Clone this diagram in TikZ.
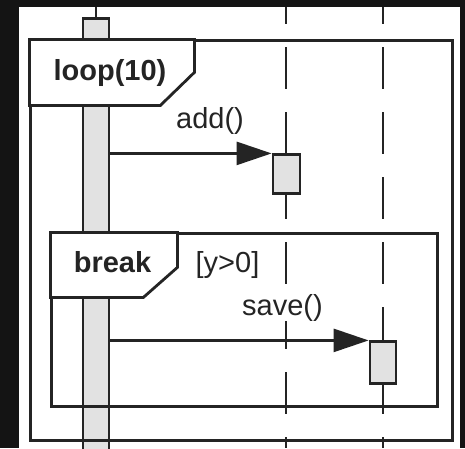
\documentclass[tikz,border=0pt]{standalone}
\usepackage{fontspec}
\setmainfont{Liberation Sans}
\usetikzlibrary{arrows.meta, positioning, calc}
\definecolor{LineDark}{RGB}{36,36,36}
\definecolor{BarFill}{RGB}{226,226,226}
\definecolor{PageDark}{RGB}{20,20,20}

\begin{document}
\begin{tikzpicture}[x=1pt, y=-1pt,
  fragbox/.style={draw=LineDark, line width=2.8pt, inner sep=0pt, anchor=north west},
  fraglbl/.style={draw=LineDark, fill=white, line width=2.8pt},
  lbltext/.style={font=\fontsize{29}{34}\selectfont\bfseries, text=LineDark, inner sep=0pt, anchor=base},
  msgtext/.style={font=\fontsize{29}{34}\selectfont, text=LineDark, inner sep=0pt, anchor=base},
  actbar/.style={draw=LineDark, fill=BarFill, line width=2.8pt, inner sep=0pt, anchor=north},
  lifeline/.style={draw=LineDark, line width=2.8pt, dash pattern=on 42pt off 23pt, dash phase=25pt},
  msg/.style={draw=LineDark, line width=2.6pt, -{Triangle[length=35pt, width=23pt]}}
]
\useasboundingbox (0,0) rectangle (465,448);
\fill[PageDark] (0,0) rectangle (465,448);
\fill[white] (19,7) rectangle (460,448);

% lifelines
\coordinate (topA) at (96,7);
\coordinate (topB) at (286,7);
\coordinate (botB) at (286,448);
\coordinate (topC) at (383,7);
\coordinate (botC) at (383,448);
\draw[lifeline] (topB) -- (botB);
\draw[lifeline] (topC) -- (botC);

\node[actbar, minimum width=26pt, minimum height=440pt] (barA) at (96,17.4) {};
\draw[draw=LineDark, line width=2.8pt] (topA) -- (barA.north);

% combined fragments
\node[fragbox, minimum width=422pt, minimum height=400pt] (loopFr) at (29.4,39.4) {};
\node[fragbox, minimum width=386pt, minimum height=173pt] (breakFr) at (50.4,232.4) {};
\draw[fraglbl] (loopFr.north west) -- ++(165,0) -- ++(0,33) -- ++(-34,33) -- ++(-131,0) -- cycle;
\draw[fraglbl] (breakFr.north west) -- ++(127,0) -- ++(0,35) -- ++(-34,30) -- ++(-93,0) -- cycle;
\node[lbltext] (loopTxt) at (110,80) {loop(10)};
\node[lbltext] (breakTxt) at (112.5,272) {break};
\node[msgtext] (guard) at (227.5,272) {[y>0]};

% activations and messages
\node[actbar, minimum width=27pt, minimum height=39pt] (boxB) at (286.5,153.4) {};
\node[actbar, minimum width=26pt, minimum height=42pt] (boxC) at (383,340.4) {};
\draw[msg] (barA.east |- boxB.north west) -- (boxB.north west);
\draw[msg] (barA.east |- boxC.north west) -- (boxC.north west);
\node[msgtext] (addTxt) at (210,128) {add()};
\node[msgtext, fill=white] (saveTxt) at (282.5,315) {save()};
\end{tikzpicture}
\end{document}
